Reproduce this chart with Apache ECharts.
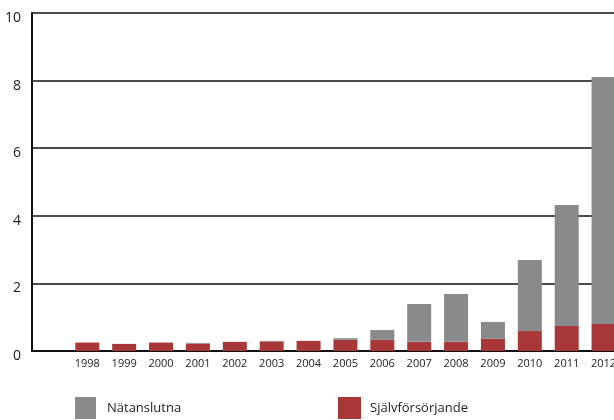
<!DOCTYPE html>
<html>
<head>
<meta charset="utf-8">
<script src="https://cdn.jsdelivr.net/npm/echarts@6/dist/echarts.min.js"></script>
<style>
  html, body { margin: 0; padding: 0; background: #fff; overflow: hidden; }
  /* wider than the window: the last category runs past the right edge, as in the original */
  #chart { width: 622px; height: 420px; }
</style>
</head>
<body>
<div id="chart"></div>
<script>
// first category is empty: the axis starts one slot before 1998
const years = ['', '1998', '1999', '2000', '2001', '2002', '2003', '2004', '2005',
  '2006', '2007', '2008', '2009', '2010', '2011', '2012'];
const sjalvforsorjande = [null, 0.25, 0.21, 0.25, 0.22, 0.27, 0.28, 0.30, 0.33,
  0.33, 0.27, 0.27, 0.36, 0.59, 0.74, 0.80];
const natanslutna = [null, 0, 0, 0, 0.02, 0, 0.02, 0, 0.05,
  0.29, 1.12, 1.42, 0.50, 2.10, 3.58, 7.31];
const yTicks = [0, 2, 4, 6, 8, 10];

const COLORS = {
  grid: '#111',
  text: '#222',
  gray: '#898a8c',
  red:  '#a83838',
};
const FONT = '"Open Sans", sans-serif';

const chart = echarts.init(document.getElementById('chart'), null, { renderer: 'canvas' });

chart.setOption({
  backgroundColor: '#fff',
  animation: false,
  textStyle: { fontFamily: FONT },
  grid: { left: 32, right: 0, top: 13, bottom: 69, containLabel: false },
  legend: [
    {
      data: ['Nätanslutna'],
      left: 75, top: 397,
      padding: 0,
      itemWidth: 21, itemHeight: 22,
      icon: 'rect',
      textStyle: { color: COLORS.text, fontSize: 13, fontFamily: FONT, padding: [0, 0, 0, 6] },
    },
    {
      data: ['Självförsörjande'],
      left: 338, top: 397,
      padding: 0,
      itemWidth: 23, itemHeight: 22,
      icon: 'rect',
      textStyle: { color: COLORS.text, fontSize: 13, fontFamily: FONT, padding: [0, 0, 0, 4] },
    },
  ],
  xAxis: {
    type: 'category',
    data: years,
    boundaryGap: true,
    axisLine: { lineStyle: { color: COLORS.grid, width: 2 } },
    axisTick: { inside: true, length: 7, lineStyle: { color: COLORS.grid, width: 2 } },
    axisLabel: { color: COLORS.text, fontSize: 11, fontFamily: FONT, margin: 7, interval: 0 },
    splitLine: { show: false },
  },
  yAxis: {
    type: 'value',
    min: yTicks[0],
    max: yTicks[yTicks.length - 1],
    interval: 2,
    axisLine: { show: true, lineStyle: { color: COLORS.grid, width: 2 } },
    axisTick: { show: false },
    axisLabel: {
      color: COLORS.text, fontSize: 14, fontFamily: FONT, margin: 11,
      verticalAlign: 'top', lineHeight: 10,
    },
    splitLine: { lineStyle: { color: COLORS.grid, width: 1.6 } },
  },
  series: [
    {
      name: 'Självförsörjande',
      type: 'bar',
      stack: 'total',
      barWidth: 24,
      data: sjalvforsorjande,
      itemStyle: { color: COLORS.red },
      z: 3,
    },
    {
      name: 'Nätanslutna',
      type: 'bar',
      stack: 'total',
      barWidth: 24,
      data: natanslutna,
      itemStyle: { color: COLORS.gray },
      z: 3,
    },
  ],
});
</script>
</body>
</html>
